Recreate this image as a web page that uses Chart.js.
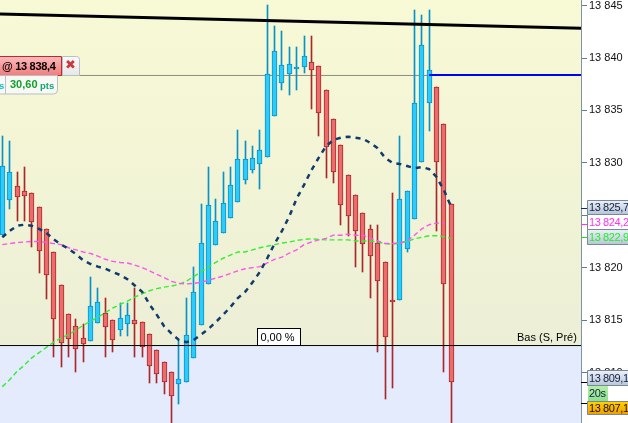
<!DOCTYPE html>
<html><head><meta charset="utf-8">
<style>html,body{margin:0;padding:0;background:#fff;overflow:hidden}canvas{display:block}</style>
<script src="https://cdn.jsdelivr.net/npm/chart.js@4"></script>
</head><body><canvas id="c" width="628" height="423"></canvas>
<script>
const highs=[13832.6,13832.1,13829.1,13829.6,13827.1,13825.8,13823.7,13821.5,13818.3,13815.6,13815.1,13814.6,13819.1,13818.1,13817.1,13815.0,13816.6,13816.6,13818.1,13814.8,13813.7,13812.1,13811.0,13810.0,13813.1,13817.1,13820.1,13826.1,13829.6,13826.6,13829.1,13829.6,13833.1,13832.1,13831.6,13833.1,13845.1,13843.1,13842.6,13841.1,13841.1,13842.1,13842.1,13839.2,13837.0,13834.2,13831.7,13828.8,13826.9,13825.2,13824.1,13824.1,13820.5,13827.1,13832.6,13827.3,13844.6,13844.1,13844.6,13837.2,13833.7,13826.1];
const lows=[13823.1,13825.6,13824.5,13824.5,13822.0,13819.5,13817.0,13811.5,13810.5,13811.5,13810.0,13811.0,13813.0,13814.7,13811.5,13812.0,13813.5,13813.5,13811.5,13811.5,13809.0,13809.0,13807.9,13805.0,13807.0,13809.1,13811.4,13814.5,13818.4,13822.2,13823.3,13824.7,13826.3,13828.0,13829.0,13827.5,13830.6,13834.5,13837.0,13836.5,13837.0,13838.6,13835.1,13832.6,13828.6,13828.1,13824.1,13823.0,13820.1,13819.6,13817.1,13812.0,13807.5,13808.5,13816.9,13821.5,13824.6,13830.1,13833.0,13823.5,13810.0,13805.0];
const opens=[13823.1,13826.5,13827.8,13827.3,13827.1,13825.8,13823.7,13821.5,13818.3,13815.6,13814.4,13813.3,13813.0,13814.7,13815.7,13815.0,13814.1,13814.6,13815.0,13814.8,13813.7,13812.1,13811.0,13810.0,13808.9,13809.1,13811.4,13814.5,13818.4,13822.2,13823.3,13824.7,13826.3,13828.4,13829.3,13829.9,13830.6,13834.5,13837.6,13838.5,13839.0,13839.1,13839.6,13839.2,13837.0,13834.2,13831.7,13828.8,13826.9,13825.2,13823.7,13822.4,13820.5,13816.9,13816.9,13821.8,13824.6,13830.1,13835.7,13837.2,13833.7,13826.1];
const closes=[13829.7,13829.1,13826.7,13826.8,13824.4,13821.6,13819.3,13815.1,13812.8,13813.2,13812.2,13812.7,13816.3,13816.7,13814.3,13813.1,13815.2,13815.5,13814.6,13812.4,13810.6,13809.9,13809.1,13807.8,13809.4,13813.6,13817.7,13822.4,13826.0,13824.5,13826.2,13827.9,13830.4,13830.4,13830.5,13831.2,13838.5,13840.7,13839.3,13839.4,13839.1,13840.2,13838.9,13834.8,13831.5,13829.1,13826.0,13824.9,13823.5,13822.3,13821.1,13818.7,13813.4,13816.8,13826.6,13827.3,13835.7,13841.2,13838.9,13830.1,13818.4,13809.1];
const navyAvg=[13822.9,13823.5,13824.0,13824.1,13824.0,13823.7,13823.3,13822.7,13822.2,13821.8,13821.3,13820.7,13820.35,13820.1,13819.9,13819.6,13819.3,13818.9,13818.3,13817.7,13816.5,13815.5,13814.4,13813.7,13813.1,13812.9,13813.1,13813.6,13814.15,13814.8,13815.5,13816.25,13817.1,13817.7,13818.6,13819.6,13820.9,13822.3,13823.5,13824.9,13826.6,13827.9,13829.3,13830.5,13831.6,13832.2,13832.4,13832.5,13832.4,13832.3,13831.9,13831.4,13830.5,13830.0,13829.9,13829.7,13829.5,13829.6,13829.4,13828.65,13827.4,13825.8];
const pinkAvg=[13822.2,13822.3,13822.4,13822.45,13822.5,13822.5,13822.4,13822.3,13822.2,13821.9,13821.7,13821.5,13821.35,13821.1,13820.8,13820.6,13820.5,13820.45,13820.25,13820.0,13819.7,13819.35,13819.05,13818.7,13818.5,13818.45,13818.5,13818.6,13818.8,13819.0,13819.2,13819.45,13819.7,13819.9,13820.0,13820.1,13820.45,13820.8,13821.0,13821.4,13821.7,13822.2,13822.45,13822.65,13822.8,13823.1,13823.1,13823.2,13823.1,13823.1,13822.8,13822.55,13822.3,13822.3,13822.35,13822.55,13823.1,13823.7,13824.1,13824.25,13824.25];
const greenAvg=[13808.65,13809.3,13810.1,13810.7,13811.4,13811.9,13812.4,13812.9,13813.3,13813.6,13814.05,13814.5,13814.9,13815.3,13815.7,13816.15,13816.5,13816.8,13817.2,13817.5,13817.8,13818.0,13818.15,13818.25,13818.4,13818.7,13819.15,13819.6,13820.05,13820.5,13820.9,13821.2,13821.5,13821.5,13821.7,13821.9,13822.05,13822.2,13822.35,13822.45,13822.6,13822.7,13822.75,13822.7,13822.65,13822.65,13822.65,13822.65,13822.55,13822.55,13822.55,13822.45,13822.3,13822.25,13822.35,13822.5,13822.75,13822.9,13823.05,13823.05,13822.95,13822.8];
const trendY=[13844.2,13842.84];
const entryLevel=13838.38;
const guideLevel=13838.34;
const entryIndex=58;
const lowLevel=13812.57;
const tickValues=[13845,13840,13835,13830,13825,13820,13815,13810];
const tagValues=[13825.7,13824.2,13822.9,13809.1,13807.1];
const tagTexts=["13 825,7","13 824,2","13 822,9","13 809,1","13 807,1"];
const orderText="@ 13 838,4";
const gainText="30,60";
const gainUnit="pts";
const pctText="0,00 %";
const lowText="Bas (S, Pré)";
const timerText="20s";

const XMIN=-0.3125,XMAX=78.63,YMIN=13805.18,YMAX=13845.54;
const idx=highs.map((_,i)=>i);
const up=i=>closes[i]>opens[i];
const RED='#EC6B6B',REDB='#A9282C',BLUE='#2BCBFB',BLUEB='#0792C9';
const FONT='"Liberation Sans",Arial,sans-serif';
const bar=(o)=>Object.assign({type:'bar',grouped:false,borderSkipped:false,minBarLength:1},o);
const line=(o)=>Object.assign({type:'line',pointRadius:0,fill:false,tension:0},o);
const series=a=>a.map((y,i)=>({x:i,y}));

function rr(ctx,x,y,w,h,r,fill,stroke){ctx.beginPath();ctx.roundRect(x,y,w,h,r);if(fill){ctx.fillStyle=fill;ctx.fill();}if(stroke){ctx.strokeStyle=stroke;ctx.lineWidth=1;ctx.stroke();}}
function grad(ctx,y0,y1,a,b){const g=ctx.createLinearGradient(0,y0,0,y1);g.addColorStop(0,a);g.addColorStop(1,b);return g;}

const snap={id:'snap',beforeDatasetsDraw(ch){
  ch.data.datasets.forEach((d,k)=>{
    if(d.type!=='bar')return;
    ch.getDatasetMeta(k).data.forEach(el=>{
      el.x=Math.floor(el.x)+.5;
      const t=Math.round(Math.min(el.y,el.base));let b=Math.round(Math.max(el.y,el.base));
      if(b-t<2)b=t+2;
      el.y=t;el.base=b;el.height=b-t;
    });
  });
}};
const backdrop={id:'backdrop',beforeDatasetsDraw(ch){
  const {ctx,chartArea:a,scales:{y}}=ch;const m=y.getPixelForValue(lowLevel);
  ctx.save();ctx.fillStyle=grad(ctx,a.top,m,'#F8F9D5','#ECEFD6');ctx.fillRect(a.left,a.top,a.right-a.left,m-a.top);
  ctx.fillStyle='#E3EBFD';ctx.fillRect(a.left,m,a.right-a.left,a.bottom-m);ctx.restore();
}};
const overlay={id:'overlay',afterDraw(ch){
  const {ctx,scales:{y}}=ch;ctx.save();ctx.textBaseline='middle';ctx.textAlign='left';
  rr(ctx,62.5,56.5,17,19,[0,3,0,0],grad(ctx,56,75,'#FAFAFA','#E8E8E8'),'#B9C0C4');
  rr(ctx,-4,56.5,65.5,19,0,grad(ctx,56,75,'#FDBDBD','#F27D7D'),'#C1272D');
  ctx.fillStyle='#000';ctx.font='bold 11px '+FONT;ctx.letterSpacing='-0.3px';ctx.fillText(orderText,2,66.5);ctx.letterSpacing='0px';
  ctx.fillStyle='#C8383C';ctx.font='bold 13px "DejaVu Sans",sans-serif';ctx.textAlign='center';ctx.fillText('✖',70.5,66);ctx.textAlign='left';
  rr(ctx,-4,75.5,9.5,18.5,0,'#F8F8F4','#B9C0C4');
  ctx.fillStyle='#10C0C8';ctx.font='bold 9.5px '+FONT;ctx.fillText('s',-1,86);
  rr(ctx,5.5,75.5,52,18.5,[0,0,4,0],'#F8F8F4','#B9C0C4');
  ctx.fillStyle='#12A02C';ctx.font='bold 11px '+FONT;ctx.fillText(gainText,10,85);
  ctx.fillStyle='#10A870';ctx.font='bold 9.5px '+FONT;ctx.fillText(gainUnit,40,86);
  ctx.fillStyle='#fff';ctx.fillRect(257.5,328.5,43,17);ctx.strokeStyle='#000';ctx.lineWidth=1;ctx.strokeRect(257.5,328.5,43,17);
  ctx.fillStyle='#000';ctx.font='11px '+FONT;ctx.textAlign='center';ctx.fillText(pctText,277.5,337.5);
  ctx.textAlign='left';ctx.fillText(lowText,517,338);
  const tick=(v,c)=>{ctx.strokeStyle=c;ctx.lineWidth=1;const p=Math.round(y.getPixelForValue(v))+.5;ctx.beginPath();ctx.moveTo(581,p);ctx.lineTo(587,p);ctx.stroke();};
  ['#10305A','#FF33EE','#22DD22','#000','#000'].forEach((c,i)=>tick(tagValues[i],c));
  const border='#76899B';
  ctx.font='11px '+FONT;ctx.letterSpacing='-0.4px';
  rr(ctx,587.5,200.5,45,14,0,grad(ctx,200,214,'#EEF2FA','#B7C4D8'),border);
  ctx.fillStyle='#102040';ctx.fillText(tagTexts[0],589,208);
  rr(ctx,587.5,214.5,45,15,0,'#fff',border);
  ctx.fillStyle='#FF33EE';ctx.fillText(tagTexts[1],589,223);
  rr(ctx,587.5,229.5,45,15,0,grad(ctx,229,245,'#EEF2FA','#B7C4D8'),border);
  ctx.fillStyle='#22EE22';ctx.fillText(tagTexts[2],589,238);
  rr(ctx,587.5,370.5,45,15,0,grad(ctx,370,386,'#EEF2FA','#B7C4D8'),border);
  ctx.fillStyle='#102040';ctx.fillText(tagTexts[3],589,379);
  ctx.fillStyle='#fff';ctx.fillRect(588,386,40,15);
  ctx.fillStyle=grad(ctx,386,401,'#B4F0A8','#8CE08C');ctx.fillRect(588,386,20,15);
  ctx.fillStyle='#102040';ctx.fillText(timerText,589,394);
  rr(ctx,587.5,401.5,45,13,0,grad(ctx,401,414,'#FFD400','#F0A000'),border);
  ctx.fillStyle='#201000';ctx.fillText(tagTexts[4],589,408.5);
  ctx.restore();
}};

new Chart(document.getElementById('c'),{
  data:{datasets:[
    line({data:[{x:XMIN,y:guideLevel},{x:entryIndex,y:guideLevel}],borderColor:'#8B8B80',borderWidth:1,order:20}),
    bar({data:idx.map(i=>({x:i,y:[lows[i],highs[i]]})),backgroundColor:idx.map(i=>up(i)?BLUEB:REDB),barThickness:1,borderWidth:0,order:10}),
    bar({data:idx.map(i=>({x:i,y:[opens[i],closes[i]]})),backgroundColor:idx.map(i=>up(i)?BLUE:RED),borderColor:idx.map(i=>up(i)?BLUEB:REDB),barThickness:5,borderWidth:1,order:9}),
    line({data:series(greenAvg),borderColor:'#33EE33',borderWidth:1.4,borderDash:[5,3],order:6}),
    line({data:series(pinkAvg),borderColor:'#FF55EE',borderWidth:1.4,borderDash:[5,3],order:5}),
    line({data:series(navyAvg),borderColor:'#0F3B6E',borderWidth:2.5,borderDash:[5,5],order:4}),
    line({data:[{x:XMIN,y:lowLevel},{x:XMAX,y:lowLevel}],borderColor:'#000',borderWidth:1,order:3}),
    line({data:[{x:entryIndex,y:entryLevel},{x:XMAX,y:entryLevel}],borderColor:'#0000FF',borderWidth:2,order:2}),
    line({data:[XMIN,XMAX].map((x,i)=>({x,y:trendY[i]})),borderColor:'#000',borderWidth:3,order:1})
  ]},
  options:{
    responsive:false,animation:false,devicePixelRatio:1,
    layout:{padding:0},
    plugins:{legend:{display:false},tooltip:{enabled:false}},
    scales:{
      x:{type:'linear',display:false,min:XMIN,max:XMAX,offset:false},
      y:{type:'linear',position:'right',min:YMIN,max:YMAX,
        afterFit(s){s.width=47;s.paddingTop=0;s.paddingBottom=0;},
        afterBuildTicks(s){s.ticks=tickValues.map(value=>({value}));},
        border:{display:true,color:'#7F93A6',width:1},
        grid:{drawOnChartArea:false,color:'#5F7C96',tickLength:6},
        ticks:{padding:2,color:'#111',font:{family:FONT,size:11},autoSkip:false,maxRotation:0,
          callback:v=>String(v).replace(/(\d{2})(\d{3})/,'$1 $2')}
      }
    }
  },
  plugins:[backdrop,snap,overlay]
});
</script></body></html>
